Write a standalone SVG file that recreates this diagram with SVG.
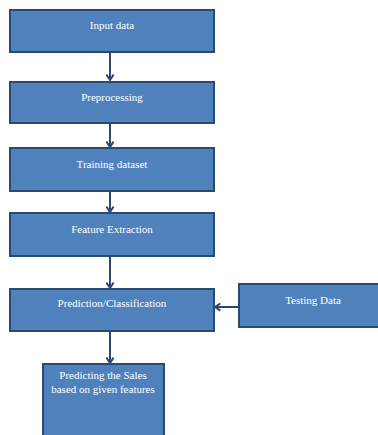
<svg xmlns="http://www.w3.org/2000/svg" width="378" height="435" viewBox="0 0 378 435">
<style>
.box{fill:#4F81BD;stroke:#2B4A72;stroke-width:2}
.t{font-family:"Liberation Serif","Times New Roman",serif;font-size:11px;fill:#ffffff;text-anchor:middle}
.c{stroke:#2B4A72;stroke-width:2;fill:none}
</style>
<defs>
<marker id="ah" viewBox="0 0 10 10" refX="9" refY="5" markerWidth="9" markerHeight="9" orient="auto" markerUnits="userSpaceOnUse">
<path d="M3,1 L9,5 L3,9" fill="none" stroke="#2B4A72" stroke-width="2.2"/>
</marker>
</defs>
<rect width="378" height="435" fill="#ffffff"/>
<g id="connectors">
<line class="c" x1="110" y1="52" x2="110" y2="80" marker-end="url(#ah)"/>
<line class="c" x1="110" y1="123" x2="110" y2="147" marker-end="url(#ah)"/>
<line class="c" x1="110" y1="191" x2="110" y2="212" marker-end="url(#ah)"/>
<line class="c" x1="110" y1="256" x2="110" y2="288" marker-end="url(#ah)"/>
<line class="c" x1="239" y1="307" x2="215" y2="307" marker-end="url(#ah)"/>
<line class="c" x1="110" y1="331" x2="110" y2="363" marker-end="url(#ah)"/>
</g>
<g id="input"><rect class="box" x="10" y="10" width="204" height="42"/><text class="t" x="112" y="29">Input data</text></g>
<g id="preprocessing"><rect class="box" x="10" y="82" width="204" height="41"/><text class="t" x="112" y="101">Preprocessing</text></g>
<g id="training"><rect class="box" x="10" y="148" width="204" height="43"/><text class="t" x="112" y="168">Training dataset</text></g>
<g id="feature"><rect class="box" x="10" y="213" width="204" height="43"/><text class="t" x="112" y="233">Feature Extraction</text></g>
<g id="prediction"><rect class="box" x="10" y="289" width="204" height="42"/><text class="t" x="112" y="307">Prediction/Classification</text></g>
<g id="testing"><rect class="box" x="239" y="284" width="142" height="43"/><text class="t" x="313" y="304">Testing Data</text></g>
<g id="result"><rect class="box" x="43" y="364" width="121" height="75"/><text class="t" x="103" y="379">Predicting the Sales</text><text class="t" x="103" y="393">based on given features</text></g>
</svg>
